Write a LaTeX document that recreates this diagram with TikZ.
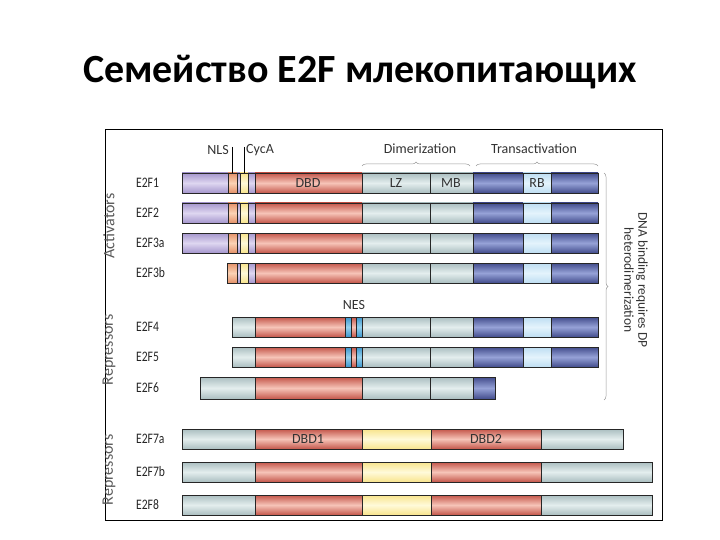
\documentclass[tikz,border=0pt]{standalone}
\usepackage{fontspec}
\setmainfont{Carlito}
\newfontfamily\narrowfont[FakeStretch=0.8]{Carlito}
\usepackage{tikz}
\usetikzlibrary{positioning,calc,decorations.pathreplacing}
\definecolor{purpA}{RGB}{165,150,205}
\definecolor{purpB}{RGB}{222,214,240}
\definecolor{orgA}{RGB}{228,145,105}
\definecolor{orgB}{RGB}{250,210,180}
\definecolor{yelA}{RGB}{248,228,140}
\definecolor{yelB}{RGB}{255,250,218}
\definecolor{redA}{RGB}{196,86,74}
\definecolor{redB}{RGB}{246,196,184}
\definecolor{gryA}{RGB}{170,190,192}
\definecolor{gryB}{RGB}{228,238,238}
\definecolor{bluA}{RGB}{66,76,140}
\definecolor{bluB}{RGB}{150,162,215}
\definecolor{rbA}{RGB}{190,222,242}
\definecolor{rbB}{RGB}{228,243,252}
\definecolor{nesA}{RGB}{60,150,205}
\definecolor{nesB}{RGB}{150,210,238}

\begin{document}
\begin{tikzpicture}[
    x=1pt, y=-1pt,
    seg/.style 2 args={draw=black!85, line width=0.6pt,
        top color=#1, bottom color=#1, middle color=#2},
    purp/.style={seg={purpA}{purpB}},
    org/.style={seg={orgA}{orgB}},
    yel/.style={seg={yelA}{yelB}},
    red/.style={seg={redA}{redB}},
    gry/.style={seg={gryA}{gryB}},
    blu/.style={seg={bluA}{bluB}},
    rb/.style={seg={rbA}{rbB}},
    nes/.style={seg={nesA}{nesB}},
    lbl/.style={font=\narrowfont\fontsize{14.5}{15}\selectfont, text=black!85, anchor=west, inner sep=0pt},
    inlbl/.style={font=\fontsize{14}{15}\selectfont, text=black!80, inner sep=0pt},
    grp/.style={font=\fontsize{16}{17}\selectfont, rotate=90, text=black!65},
    brc/.style={decorate, decoration={brace, amplitude=4pt}, draw=black!40, line width=0.5pt}
]
    \useasboundingbox (0,0) rectangle (720,540);

    % Title
    \node[font=\fontsize{40}{44}\selectfont\bfseries] (title) at (360,72) {Семейство E2F млекопитающих};

    % Frame
    \draw[line width=0.9pt] (105,129) rectangle (662,520);

    % Activators
    \foreach \y/\lab in {183/E2F1, 213/E2F2, 243/E2F3a, 273/E2F3b} {
        \ifnum\y<270
            \draw[purp] (182,\y-10) rectangle (228,\y+10);
            \draw[org] (228,\y-10) rectangle (237,\y+10);
        \else
            \draw[org] (227,\y-10) rectangle (237,\y+10);
        \fi
        \draw[purp] (237,\y-10) rectangle (240,\y+10);
        \draw[yel] (240,\y-10) rectangle (248,\y+10);
        \draw[purp] (248,\y-10) rectangle (255,\y+10);
        \draw[red] (255,\y-10) rectangle (362,\y+10);
        \draw[gry] (362,\y-10) rectangle (430,\y+10);
        \draw[gry] (430,\y-10) rectangle (473,\y+10);
        \draw[blu] (473,\y-10) rectangle (523,\y+10);
        \draw[rb] (523,\y-10) rectangle (551,\y+10);
        \draw[blu] (551,\y-10) rectangle (598,\y+10);
        \node[lbl] (\lab) at (136,\y) {\lab};
    }

    % Repressors E2F4, E2F5
    \foreach \y/\lab in {327/E2F4, 357/E2F5} {
        \draw[gry] (232,\y-10) rectangle (255,\y+10);
        \draw[red] (255,\y-10) rectangle (345,\y+10);
        \draw[nes] (345,\y-10) rectangle (351,\y+10);
        \draw[red] (351,\y-10) rectangle (356,\y+10);
        \draw[nes] (356,\y-10) rectangle (362,\y+10);
        \draw[gry] (362,\y-10) rectangle (430,\y+10);
        \draw[gry] (430,\y-10) rectangle (473,\y+10);
        \draw[blu] (473,\y-10) rectangle (523,\y+10);
        \draw[rb] (523,\y-10) rectangle (551,\y+10);
        \draw[blu] (551,\y-10) rectangle (598,\y+10);
        \node[lbl] (\lab) at (136,\y) {\lab};
    }

    % E2F6
    \draw[gry] (200,377) rectangle (255,399);
    \draw[red] (255,377) rectangle (362,399);
    \draw[gry] (362,377) rectangle (430,399);
    \draw[gry] (430,377) rectangle (473,399);
    \draw[blu] (473,377) rectangle (495,399);
    \node[lbl] (E2F6) at (136,388) {E2F6};

    % Atypical repressors
    \foreach \y/\lab/\e in {439/E2F7a/623, 472/E2F7b/652, 505/E2F8/652} {
        \draw[gry] (182,\y-10) rectangle (255,\y+10);
        \draw[red] (255,\y-10) rectangle (362,\y+10);
        \draw[yel] (362,\y-10) rectangle (431,\y+10);
        \draw[red] (431,\y-10) rectangle (541,\y+10);
        \draw[gry] (541,\y-10) rectangle (\e,\y+10);
        \node[lbl] (\lab) at (136,\y) {\lab};
    }

    % Domain names
    \node[inlbl] (dbd) at (308,183) {DBD};
    \node[inlbl] (lz) at (396,183) {LZ};
    \node[inlbl] (mb) at (451,183) {MB};
    \node[inlbl] (rb) at (537,183) {RB};
    \node[inlbl] (dbd1) at (308,439) {DBD1};
    \node[inlbl] (dbd2) at (486,439) {DBD2};
    \node[inlbl] (nes) at (354,305) {NES};

    % Motifs above E2F1
    \node[inlbl, anchor=east] (nls) at (229,150) {NLS};
    \node[inlbl, anchor=west] (cyca) at (246,150) {CycA};
    \coordinate (nlsTop) at (232,147);
    \coordinate (cycTop) at (244,147);
    \draw[line width=0.5pt] (nlsTop) -- (232,173);
    \draw[line width=0.5pt] (cycTop) -- (244,173);

    % Braces
    \node[inlbl] (dim) at (420,149) {Dimerization};
    \node[inlbl] (trans) at (534,149) {Transactivation};
    \draw[brc] (362,166) -- (470,166);
    \draw[brc] (476,166) -- (598,166);
    \draw[brc] (604,173) -- (604,400);
    \node[inlbl, rotate=-90, align=center, font=\fontsize{13.5}{14}\selectfont] (dna) at (636,280)
        {DNA binding requires DP\\heterodimerization};

    % Groups
    \node[grp] (act) at (109,226) {Activators};
    \node[grp] (rep) at (109,350) {Repressors};
    \node[grp] (rep2) at (109,470) {Repressors};
\end{tikzpicture}
\end{document}
